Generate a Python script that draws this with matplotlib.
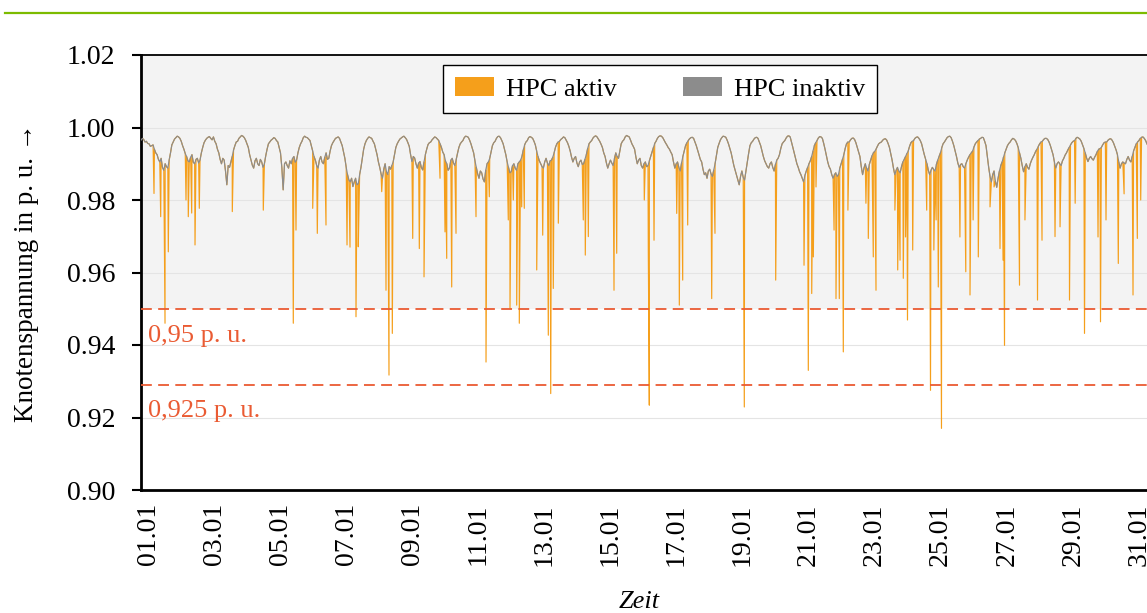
import matplotlib
matplotlib.use("Agg")
import matplotlib.pyplot as plt
from matplotlib.patches import Patch
from matplotlib.lines import Line2D
import matplotlib.transforms as mtransforms
import numpy as np

plt.rcParams['font.family'] = ['Liberation Serif', 'DejaVu Serif']

"""
Data: node voltage without HPC, hourly (1e-4 p.u. below 1.0), one row per day
"""

base_rows = [
    [35, 30, 33, 40, 38, 44, 45, 52, 50, 48, 60, 70, 75, 88, 95, 85, 110, 118, 100, 108, 112, 90, 70, 48],
    [40, 32, 28, 24, 26, 30, 38, 50, 60, 72, 80, 92, 95, 82, 75, 96, 100, 88, 85, 98, 90, 70, 55, 42],
    [35, 30, 27, 25, 30, 34, 26, 38, 45, 60, 70, 88, 100, 85, 90, 120, 158, 105, 110, 95, 80, 62, 50, 40],
    [38, 30, 26, 22, 24, 28, 35, 45, 55, 75, 90, 104, 112, 92, 85, 100, 105, 88, 95, 110, 100, 78, 60, 45],
    [40, 35, 32, 28, 30, 36, 40, 55, 70, 110, 172, 100, 95, 105, 112, 92, 100, 85, 80, 96, 90, 70, 55, 45],
    [38, 28, 24, 27, 28, 32, 36, 50, 65, 80, 90, 105, 112, 90, 80, 95, 100, 82, 70, 88, 85, 65, 50, 42],
    [36, 30, 28, 26, 30, 40, 50, 68, 85, 110, 130, 145, 150, 140, 163, 150, 140, 158, 155, 130, 110, 85, 60, 45],
    [36, 30, 26, 28, 30, 38, 45, 60, 75, 95, 110, 128, 140, 115, 100, 122, 130, 108, 115, 105, 95, 75, 55, 45],
    [38, 32, 29, 26, 24, 28, 33, 42, 52, 75, 94, 80, 84, 100, 112, 98, 94, 110, 117, 95, 75, 60, 47, 42],
    [40, 34, 30, 26, 28, 32, 36, 45, 55, 68, 75, 92, 100, 118, 112, 90, 85, 98, 105, 88, 70, 55, 45, 40],
    [36, 28, 24, 25, 27, 35, 45, 58, 70, 92, 110, 128, 140, 120, 125, 142, 150, 118, 100, 95, 85, 68, 50, 42],
    [38, 30, 25, 24, 28, 36, 45, 60, 75, 95, 110, 125, 122, 105, 100, 112, 118, 100, 95, 90, 80, 62, 48, 40],
    [36, 28, 25, 27, 30, 38, 48, 65, 80, 92, 100, 108, 112, 95, 85, 98, 105, 92, 90, 82, 70, 55, 45, 40],
    [38, 33, 30, 26, 28, 35, 42, 52, 65, 82, 95, 85, 80, 98, 108, 95, 90, 102, 100, 88, 75, 58, 45, 40],
    [36, 29, 25, 23, 26, 32, 38, 46, 55, 70, 80, 98, 112, 100, 90, 98, 105, 85, 70, 80, 85, 65, 45, 38],
    [34, 26, 22, 24, 26, 35, 45, 52, 60, 82, 100, 90, 85, 105, 112, 100, 95, 108, 105, 92, 80, 68, 55, 44],
    [38, 30, 25, 23, 24, 28, 35, 42, 48, 55, 60, 68, 75, 95, 112, 100, 95, 110, 120, 98, 80, 65, 50, 42],
    [36, 31, 28, 27, 30, 40, 50, 62, 75, 88, 95, 115, 130, 125, 140, 120, 115, 128, 135, 118, 100, 78, 55, 44],
    [34, 28, 24, 25, 27, 35, 45, 58, 70, 88, 105, 118, 130, 145, 158, 135, 120, 138, 145, 120, 95, 72, 50, 42],
    [38, 32, 28, 27, 30, 40, 50, 65, 80, 92, 100, 108, 112, 100, 95, 110, 120, 102, 90, 85, 75, 58, 45, 40],
    [36, 29, 24, 23, 26, 40, 55, 70, 85, 100, 110, 122, 130, 140, 150, 132, 120, 110, 100, 92, 80, 65, 50, 42],
    [36, 29, 25, 26, 30, 44, 60, 78, 95, 108, 115, 130, 140, 130, 125, 135, 130, 112, 100, 88, 75, 58, 45, 40],
    [40, 34, 30, 29, 33, 42, 55, 68, 80, 108, 130, 112, 100, 112, 120, 102, 90, 78, 70, 66, 60, 52, 45, 42],
    [40, 35, 32, 31, 35, 44, 55, 72, 90, 112, 130, 118, 110, 120, 125, 108, 95, 88, 80, 72, 65, 52, 42, 38],
    [36, 30, 27, 26, 30, 36, 45, 60, 75, 88, 100, 118, 130, 118, 110, 116, 120, 102, 90, 80, 70, 56, 45, 40],
    [34, 28, 25, 24, 28, 38, 50, 65, 80, 98, 110, 102, 100, 108, 112, 100, 90, 82, 75, 70, 65, 54, 45, 40],
    [36, 32, 30, 27, 28, 38, 50, 80, 110, 135, 150, 130, 120, 148, 165, 140, 120, 105, 95, 82, 70, 60, 50, 44],
    [40, 34, 30, 32, 36, 44, 55, 70, 85, 105, 122, 108, 100, 110, 115, 100, 90, 82, 75, 66, 60, 52, 45, 40],
    [38, 33, 30, 30, 33, 40, 50, 62, 75, 95, 112, 100, 95, 100, 105, 92, 85, 76, 70, 62, 55, 48, 42, 38],
    [36, 30, 27, 29, 32, 38, 48, 58, 70, 84, 94, 85, 80, 86, 90, 82, 75, 66, 60, 58, 55, 48, 42, 40],
    [40, 35, 32, 31, 35, 42, 52, 62, 75, 95, 112, 100, 95, 98, 100, 88, 80, 90, 95, 80, 65, 55, 45, 40],
    [36, 30, 27, 26, 30, 36, 45, 52, 60, 72, 85, 95, 100, 98, 95, 105, 110, 98, 90, 80, 70, 56, 45, 40],
]

# HPC aktiv: additional voltage dips (time in days since start, voltage in p.u.)
dip_t = [0.404, 0.612, 0.746, 0.848, 1.398, 1.469, 1.575, 1.678, 1.811, 2.836,
         3.799, 4.731, 4.815, 5.334, 5.477, 5.747, 6.400, 6.493, 6.679, 6.750,
         7.478, 7.611, 7.704, 7.807, 8.441, 8.646, 8.792, 9.289, 9.444, 9.497,
         9.652, 9.786, 10.407, 10.718, 10.820, 11.410, 11.463, 11.566, 11.671, 11.752,
         11.827, 11.907, 12.293, 12.479, 12.653, 12.728, 12.808, 12.964, 13.740, 13.802,
         13.896, 14.694, 14.778, 15.635, 15.760, 15.791, 15.937, 16.642, 16.723, 16.828,
         16.983, 17.729, 17.831, 18.742, 19.717, 20.597, 20.730, 20.836, 20.886, 20.969,
         21.530, 21.590, 21.693, 21.817, 21.960, 22.520, 22.594, 22.749, 22.833, 23.420,
         23.507, 23.580, 23.681, 23.750, 23.811, 23.973, 24.408, 24.526, 24.630, 24.700,
         24.768, 24.867, 25.440, 25.622, 25.753, 25.850, 26.011, 26.375, 26.500, 26.685,
         26.780, 26.825, 27.291, 27.460, 27.850, 27.990, 28.394, 28.550, 28.844, 29.020,
         29.310, 29.730, 29.807, 29.978, 30.360, 30.540, 30.817, 30.951, 31.056]
dip_v = [0.9818, 0.9754, 0.9460, 0.9657, 0.9800, 0.9754, 0.9764, 0.9676, 0.9777, 0.9768,
         0.9772, 0.9460, 0.9717, 0.9777, 0.9708, 0.9731, 0.9676, 0.9670, 0.9478, 0.9671,
         0.9823, 0.9551, 0.9317, 0.9432, 0.9694, 0.9666, 0.9588, 0.9860, 0.9712, 0.9639,
         0.9560, 0.9708, 0.9754, 0.9353, 0.9809, 0.9745, 0.9500, 0.9800, 0.9510, 0.9460,
         0.9781, 0.9777, 0.9607, 0.9703, 0.9427, 0.9266, 0.9556, 0.9736, 0.9745, 0.9648,
         0.9699, 0.9551, 0.9653, 0.9800, 0.9653, 0.9234, 0.9689, 0.9763, 0.9510, 0.9579,
         0.9731, 0.9528, 0.9708, 0.9229, 0.9579, 0.9620, 0.9330, 0.9542, 0.9643, 0.9836,
         0.9717, 0.9528, 0.9528, 0.9381, 0.9772, 0.9791, 0.9694, 0.9643, 0.9551, 0.9772,
         0.9607, 0.9634, 0.9584, 0.9698, 0.9469, 0.9662, 0.9772, 0.9275, 0.9662, 0.9745,
         0.9560, 0.9170, 0.9698, 0.9602, 0.9538, 0.9745, 0.9643, 0.9781, 0.9836, 0.9666,
         0.9634, 0.9399, 0.9565, 0.9745, 0.9524, 0.9689, 0.9699, 0.9726, 0.9524, 0.9791,
         0.9432, 0.9698, 0.9464, 0.9745, 0.9625, 0.9817, 0.9538, 0.9694, 0.9800]

tick_labels = ["01.01", "03.01", "05.01", "07.01", "09.01", "11.01", "13.01", "15.01",
               "17.01", "19.01", "21.01", "23.01", "25.01", "27.01", "29.01", "31.01"]
first_tick, last_tick = 0.22, 31.0

limit_95 = 0.95
limit_925 = 0.929

"""
Series
"""

base_v = 1.0 - np.array(base_rows, dtype=float).ravel() * 1e-4
base_t = np.arange(len(base_v)) / 24.0

ot = np.concatenate([base_t, dip_t])
ov = np.concatenate([base_v, dip_v])
order = np.argsort(ot, kind="stable")
ot, ov = ot[order], ov[order]

"""
Plot
"""

W, H = 1147, 613
fig = plt.figure(figsize=(W / 100, H / 100), dpi=100)
ax = fig.add_axes([141 / W, (H - 490) / H, 1014 / W, 435 / H])

ax.set_xlim(0, 31.5)
ax.set_ylim(0.90, 1.02)

ax.axhspan(limit_95, 1.02, color="#f3f3f3", zorder=0, lw=0)
for y in [0.92, 0.94, 0.96, 0.98, 1.00]:
    ax.axhline(y, color="#e4e4e4", lw=0.8, zorder=1)

orange = "#f59f1b"
gray = "#8c8c8c"
ax.plot(ot, ov, color=orange, lw=0.85, zorder=2)
ax.plot(base_t, base_v, color=gray, lw=0.85, zorder=3)

red = "#ea5b33"
ax.axhline(limit_95, color=red, lw=1.3, ls=(0, (6, 3.5)), zorder=4)
ax.axhline(limit_925, color=red, lw=1.3, ls=(0, (6, 3.5)), zorder=4)
trans = mtransforms.blended_transform_factory(ax.transAxes, ax.transData)
ax.text(0.007, 0.9425, "0,95 p. u.", color=red, fontsize=19, va="center", ha="left",
        transform=trans, zorder=5)
ax.text(0.007, 0.9218, "0,925 p. u.", color=red, fontsize=19, va="center", ha="left",
        transform=trans, zorder=5)

ax.set_yticks([0.90, 0.92, 0.94, 0.96, 0.98, 1.00, 1.02])
ax.set_yticklabels(["0.90", "0.92", "0.94", "0.96", "0.98", "1.00", "1.02"])
ax.set_xticks(np.linspace(first_tick, last_tick, len(tick_labels)))
ax.set_xticklabels(tick_labels, rotation=90)
ax.tick_params(axis="y", labelsize=20, length=6.5, width=1.5, pad=12)
ax.tick_params(axis="x", labelsize=20, length=0, pad=9.5)

for side in ["left", "bottom"]:
    ax.spines[side].set_linewidth(2)
ax.spines["top"].set_linewidth(1.3)
ax.spines["right"].set_visible(False)

ax.set_ylabel("Knotenspannung in p. u. →", fontsize=19.5, labelpad=20)
fig.text(639 / W, 1 - 602 / H, "Zeit", fontsize=19, fontstyle="italic",
         ha="center", va="center")

handles = [Patch(facecolor=orange, edgecolor="none"), Patch(facecolor=gray, edgecolor="none")]
leg = fig.legend(handles, ["HPC aktiv", "HPC inaktiv"], ncol=2, loc="center",
                 bbox_to_anchor=(660 / W, 1 - 89 / H), fontsize=19, frameon=True,
                 fancybox=False, edgecolor="black", framealpha=1,
                 handlelength=1.5, handleheight=0.75, handletextpad=0.45,
                 columnspacing=2.5, borderpad=0.45)
leg.get_frame().set_linewidth(1.0)

fig.add_artist(Line2D([5 / W, 1.0], [1 - 12.5 / H, 1 - 12.5 / H], transform=fig.transFigure,
                      color="#7cbb00", lw=1.6))

fig.savefig("out.png", dpi=100)
